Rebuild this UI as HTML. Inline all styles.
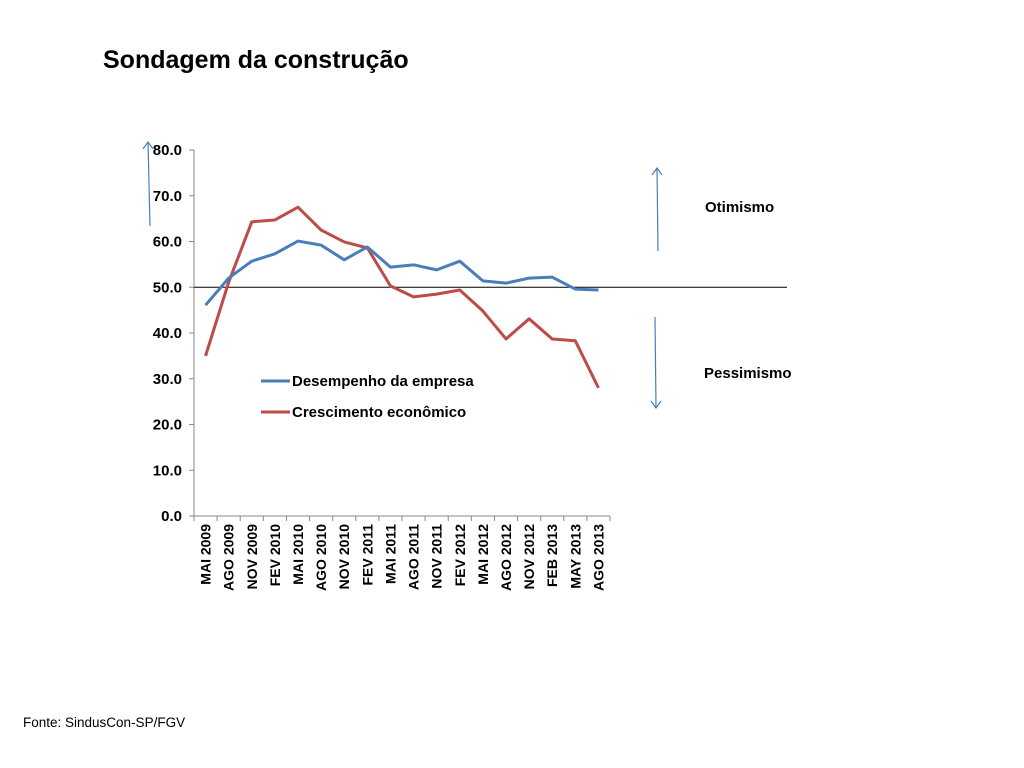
<!DOCTYPE html>
<html><head><meta charset="utf-8"><style>
body{margin:0;background:#fff;font-family:"Liberation Sans",sans-serif}
#wrap{position:relative;width:1024px;height:768px;overflow:hidden}
</style></head><body>
<div id="wrap">
<svg id="chart" width="1024" height="768" style="position:absolute;left:0;top:0"></svg>
</div>
<script>
const categories=["MAI 2009","AGO 2009","NOV 2009","FEV 2010","MAI 2010","AGO 2010","NOV 2010","FEV 2011","MAI 2011","AGO 2011","NOV 2011","FEV 2012","MAI 2012","AGO 2012","NOV 2012","FEB 2013","MAY 2013","AGO 2013"];
const desempenho=[46.1,52.0,55.7,57.3,60.1,59.2,56.0,58.8,54.4,54.9,53.8,55.7,51.4,50.9,52.0,52.2,49.6,49.4];
const crescimento=[35.0,51.1,64.3,64.7,67.5,62.5,59.9,58.6,50.3,47.9,48.5,49.4,44.8,38.7,43.1,38.7,38.3,28.0];
const yTicks=[0,10,20,30,40,50,60,70,80];
const NS="http://www.w3.org/2000/svg";
const svg=document.getElementById('chart');
const X0=194,X1=610,Y0=516,Y1=150;
const bw=(X1-X0)/categories.length;
function xs(i){return X0+bw*(i+0.5);}
function ys(v){return Y0-(v/80)*(Y0-Y1);}
function mk(t,a){const e=document.createElementNS(NS,t);for(const k in a)e.setAttribute(k,a[k]);svg.appendChild(e);return e;}
let t=mk('text',{x:103,y:68,'font-size':25,'font-weight':'bold',fill:'#000'});t.textContent='Sondagem da construção';


t=mk('text',{x:23,y:727,'font-size':13.5,fill:'#000'});t.textContent='Fonte: SindusCon-SP/FGV';


let ax=mk('line',{x1:X0,y1:Y1,x2:X0,y2:Y0,stroke:'#888','stroke-width':1});


ax=mk('line',{x1:X0,y1:Y0,x2:X1,y2:Y0,stroke:'#888','stroke-width':1});


yTicks.forEach(v=>{
 mk('line',{x1:X0-5,y1:ys(v),x2:X0,y2:ys(v),stroke:'#888'});
 const l=mk('text',{x:182,y:ys(v)+5,'font-size':15,'font-weight':'bold','text-anchor':'end'});l.textContent=v.toFixed(1);
 
 
});
for(let i=0;i<=categories.length;i++)mk('line',{x1:X0+bw*i,y1:Y0,x2:X0+bw*i,y2:Y0+5,stroke:'#888'});
categories.forEach((c,i)=>{
 const l=mk('text',{x:0,y:0,'font-size':14,'font-weight':'bold','text-anchor':'end',transform:`translate(${xs(i)+5},${Y0+8}) rotate(-90)`});l.textContent=c;
 
 
});
const ref=mk('line',{x1:X0,y1:ys(50),x2:787,y2:ys(50),stroke:'#000','stroke-width':1});


function series(d,col,name){
 const p=mk('polyline',{points:d.map((v,i)=>xs(i)+','+ys(v)).join(' '),fill:'none',stroke:col,'stroke-width':3,'stroke-linejoin':'round'});
 
 
}
series(crescimento,'#be4b48','series-crescimento');
series(desempenho,'#4a7ebb','series-desempenho');
[['#4a7ebb','Desempenho da empresa',381,'legend-desempenho'],['#be4b48','Crescimento econômico',412,'legend-crescimento']].forEach(a=>{
 mk('line',{x1:261,y1:a[2],x2:290,y2:a[2],stroke:a[0],'stroke-width':3});
 const l=mk('text',{x:292,y:a[2]+5,'font-size':15,'font-weight':'bold'});l.textContent=a[1];
 
 
});
function arrow(x1,y1,x2,y2,name){
 const g=mk('g',{stroke:'#4a7ebb','stroke-width':1.2,fill:'none'});
 
 
 const l=document.createElementNS(NS,'polyline');l.setAttribute('points',`${x1},${y1} ${x2},${y2}`);g.appendChild(l);
 const d=y2<y1?7:-7;
 const h=document.createElementNS(NS,'polyline');h.setAttribute('points',`${x2-5},${y2+d} ${x2},${y2} ${x2+5},${y2+d}`);g.appendChild(h);
}
arrow(150,226,148,142,'axis-up-arrow');
arrow(658,251,657,168,'optimism-arrow');
arrow(655,317,656,408,'pessimism-arrow');
t=mk('text',{x:705,y:212,'font-size':15,'font-weight':'bold'});t.textContent='Otimismo';


t=mk('text',{x:704,y:378,'font-size':15,'font-weight':'bold'});t.textContent='Pessimismo';


</script>
</body></html>
